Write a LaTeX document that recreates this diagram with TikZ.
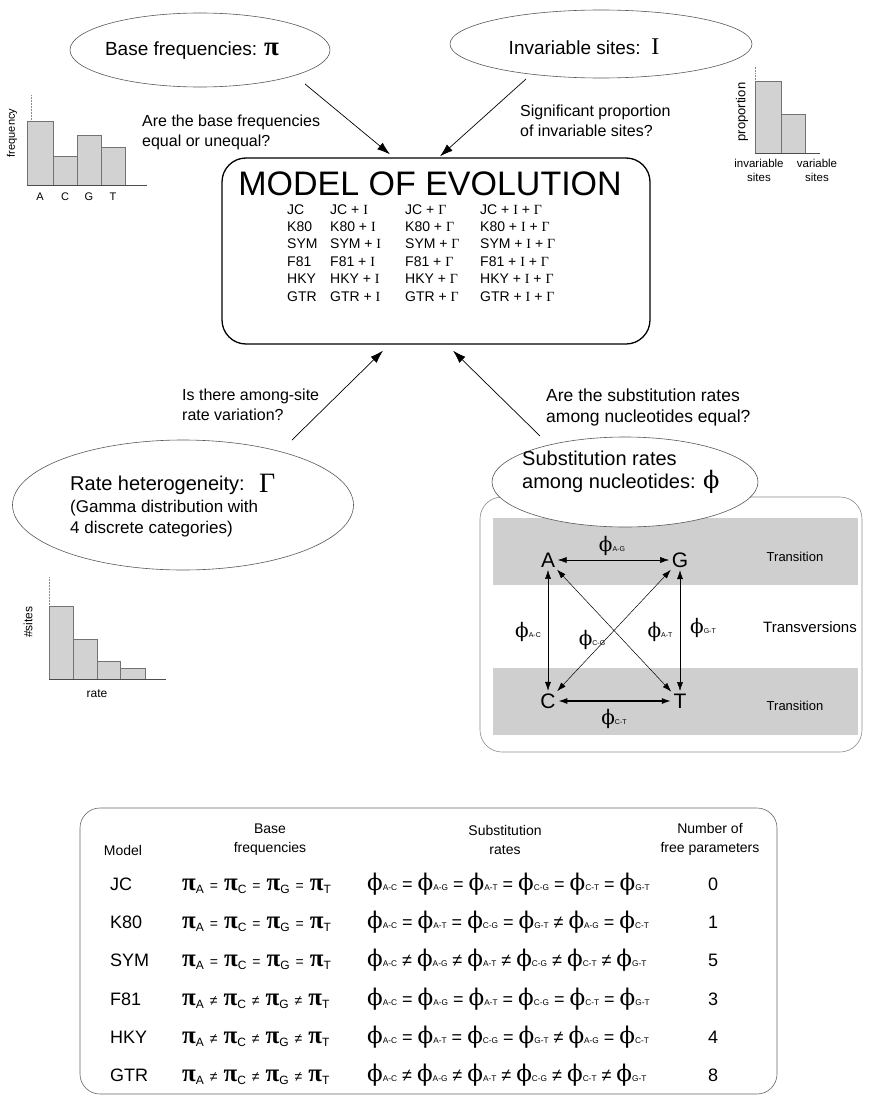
\documentclass[tikz,border=0pt]{standalone}
\usepackage{fontspec}
\setmainfont{Liberation Sans}
\newfontfamily\srf{Liberation Serif}
\newfontfamily\phif{DejaVu Serif}
\usetikzlibrary{arrows.meta,shapes.geometric}

\newcommand\fsz[1]{\fontsize{#1}{#1}\selectfont}
\newcommand\Gam{{\srf Γ}}
\newcommand\Inv{{\srf I}}
% pi with a subscript base letter
\newcommand\pis[1]{{\fsz{25}\srf\bfseries π}\raisebox{-3pt}{\fsz{12}#1}}
% phi with a small pair subscript (table)
\newcommand\phs[1]{{\fsz{23}\phif ϕ}{\fsz{8.3}#1}}
% phi with a small pair subscript (rate diagram)
\newcommand\phl[1]{{\fsz{20}\phif ϕ}{\fsz{7}#1}}

\begin{document}
\begin{tikzpicture}[x=1pt,y=-1pt,
  ell/.style={ellipse,draw=black!65,line width=0.6pt,fill=white,inner sep=0pt},
  arr/.style={-{Latex[length=13pt,width=8.5pt]},line width=0.7pt},
  dar/.style={{Latex[length=9pt,width=6pt]}-{Latex[length=9pt,width=6pt]},line width=0.5pt,shorten <=1pt,shorten >=1pt},
  lbl/.style={anchor=west,align=left,inner sep=0pt,font=\fontsize{16}{20}\selectfont},
  ttl/.style={inner sep=0pt,font=\fsz{19}},
  bar/.style={fill=gray!35,draw=black!55,line width=0.5pt},
  axisv/.style={draw=black!45,densely dotted,line width=0.5pt},
  axish/.style={draw=black!70,line width=0.6pt},
  band/.style={fill=gray!38,draw=none},
  cell/.style={anchor=base west,inner sep=0pt,font=\fsz{14}},
  tiny/.style={inner sep=0pt,font=\fsz{11}},
  hdr/.style={inner sep=0pt,align=center,font=\fontsize{14}{19}\selectfont},
  big/.style={anchor=base west,inner sep=0pt,font=\fsz{18}},
  nuc/.style={inner sep=1.5pt,font=\fsz{21}},
  rlab/.style={inner sep=0pt}]

\fill[white] (0,0) rectangle (871,1108);
\useasboundingbox (0,0) rectangle (871,1108);

%--- base frequencies
\node[ell,minimum width=260pt,minimum height=74pt] (bf) at (200,50) {};
\node[ttl] (bft) at (192,51) {Base frequencies: {\fsz{27}\srf\bfseries π}};

\draw[axisv] (31,95) -- (31,185);
\draw[bar] (27,121) rectangle (53,185);
\draw[bar] (53,156) rectangle (77,185);
\draw[bar] (77,135) rectangle (101,185);
\draw[bar] (101,147) rectangle (125,185);
\draw[axish] (27,185) -- (147,185);
\node[tiny] (hA) at (40,197) {A};
\node[tiny] (hC) at (65,197) {C};
\node[tiny] (hG) at (89,197) {G};
\node[tiny] (hT) at (113,197) {T};
\node[tiny,rotate=90] (hf) at (12,133) {frequency};

%--- invariable sites
\node[ell,minimum width=302pt,minimum height=68pt] (iv) at (601,44) {};
\node[ttl] (ivt) at (584,47) {Invariable sites:\ \ {\fsz{24}\srf I}};

\draw[axisv] (755,67) -- (755,153);
\draw[bar] (755,81) rectangle (781,153);
\draw[bar] (781,114) rectangle (805,153);
\draw[axish] (755,153) -- (820,153);
\node[tiny,rotate=90,font=\fsz{13}] (hp) at (742,112) {proportion};
\node[hdr,font=\fontsize{11.5}{14}\selectfont] (hi) at (759,170) {invariable\\sites};
\node[hdr,font=\fontsize{11.5}{14}\selectfont] (hv) at (817,170) {variable\\sites};

%--- questions
\node[lbl] (q1) at (142,132) {Are the base frequencies\\equal or unequal?};
\node[lbl] (q2) at (520,121) {Significant proportion\\of invariable sites?};
\node[lbl] (q3) at (182,405) {Is there among-site\\rate variation?};
\node[lbl,font=\fontsize{17.5}{21}\selectfont] (q4) at (546,407) {Are the substitution rates\\among nucleotides equal?};

%--- model box
\node[draw,line width=1.3pt,rounded corners=24pt,minimum width=428pt,minimum height=186pt,inner sep=0pt] (mdl) at (436,251) {};
\node[inner sep=0pt,font=\fsz{34}] (mtl) at (430,184) {MODEL OF EVOLUTION};
\foreach \m [count=\i] in {JC,K80,SYM,F81,HKY,GTR} {
  \pgfmathsetmacro\yy{214+17.4*(\i-1)}
  \node[cell] (ma\i) at (287,\yy) {\m};
  \node[cell] (mb\i) at (330,\yy) {\m\ + \Inv};
  \node[cell] (mc\i) at (405,\yy) {\m\ + \Gam};
  \node[cell] (md\i) at (480,\yy) {\m\ + \Inv\ + \Gam};
}

%--- arrows into the model box
\path (bf.center) ++(105,34) coordinate (bfo);
\path (iv.center) ++(-75,35) coordinate (ivo);
\path (mdl.north) ++(-46,-3) coordinate (mt1);
\path (mdl.north) ++(4,-1) coordinate (mt2);
\path (mdl.south) ++(-53,6) coordinate (mb1);
\path (mdl.south) ++(17,6) coordinate (mb2);
\draw[arr] (bfo) -- (mt1);
\draw[arr] (ivo) -- (mt2);

%--- rate heterogeneity
\node[ell,minimum width=341pt,minimum height=130pt] (rh) at (183,505) {};
\node[anchor=base west,inner sep=0pt,font=\fsz{20}] (rht) at (70,490) {Rate heterogeneity:};
\node[anchor=base west,inner sep=0pt,font=\fsz{28}\srf] (rhg) at (259,492) {Γ};
\node[anchor=base west,inner sep=0pt,font=\fsz{17}] (rh1) at (70,512) {(Gamma distribution with};
\node[anchor=base west,inner sep=0pt,font=\fsz{17}] (rh2) at (70,533) {4 discrete categories)};
\path (rh.center) ++(109,-65) coordinate (rho);
\draw[arr] (rho) -- (mb1);

\draw[axisv] (49,577) -- (49,679);
\draw[bar] (49,606) rectangle (73,679);
\draw[bar] (73,639) rectangle (97,679);
\draw[bar] (97,661) rectangle (120,679);
\draw[bar] (120,668) rectangle (145,679);
\draw[axish] (49,679) -- (166,679);
\node[tiny,rotate=90,font=\fsz{12}] (hs) at (28,622) {\#sites};
\node[tiny,font=\fsz{12}] (hr) at (97,694) {rate};

%--- substitution rates
\node[draw=black!45,line width=0.6pt,rounded corners=22pt,minimum width=382pt,minimum height=255pt,inner sep=0pt] (sbx) at (671,624.5) {};
\fill[band] (493,518) rectangle (858,585);
\fill[band] (493,668) rectangle (858,735);
\node[ell,minimum width=266pt,minimum height=90pt] (sr) at (625,482) {};
\node[anchor=base west,inner sep=0pt,font=\fsz{20}] (srt1) at (522,465) {Substitution rates};
\node[anchor=base west,inner sep=0pt,font=\fsz{20}] (srt2) at (522,488) {among nucleotides: {\fsz{24}\phif ϕ}};
\path (sr.center) ++(-85,-46) coordinate (sro);
\draw[arr] (sro) -- (mb2);

\node[nuc] (A) at (548,560) {A};
\node[nuc] (G) at (680,560) {G};
\node[nuc] (C) at (548,701) {C};
\node[nuc] (T) at (680,701) {T};
\draw[dar] (A) -- (G);
\draw[dar] (A) -- (C);
\draw[dar] (G) -- (T);
\draw[dar] (A) -- (T);
\draw[dar] (G) -- (C);
\draw[dar,line width=1.3pt] (C) -- (T);
\node[rlab] (lag) at (612,546) {\phl{A-G}};
\node[rlab] (lac) at (528,632) {\phl{A-C}};
\node[rlab] (lcg) at (592,640) {\phl{C-G}};
\node[rlab] (lat) at (660,632) {\phl{A-T}};
\node[rlab] (lgt) at (703,628) {\phl{G-T}};
\node[rlab] (lct) at (614,719) {\phl{C-T}};
\node[inner sep=0pt,font=\fsz{13}] (tr1) at (795,557) {Transition};
\node[inner sep=0pt,font=\fsz{15}] (tv) at (810,627) {Transversions};
\node[inner sep=0pt,font=\fsz{13}] (tr2) at (795,706) {Transition};

%--- summary table
\node[draw=black!60,line width=0.6pt,rounded corners=20pt,minimum width=697pt,minimum height=286pt,inner sep=0pt] (tbl) at (428.5,951) {};
\node[hdr] (hm) at (123,850) {Model};
\node[hdr] (hb) at (270,839.5) {Base\\frequencies};
\node[hdr] (hsr) at (505,839.5) {Substitution\\rates};
\node[hdr] (hn) at (710,839.5) {Number of\\free parameters};

\def\peq{{\fsz{14}\hspace{6pt}=\hspace{6pt}}}
\def\pne{{\fsz{14}\hspace{6pt}≠\hspace{6pt}}}
\def\feq{\ =\ }
\def\fne{\ ≠\ }
\foreach \nm/\pp/\ff/\nn [count=\i] in {
  JC/{\pis{A}\peq\pis{C}\peq\pis{G}\peq\pis{T}}/{\phs{A-C}\feq\phs{A-G}\feq\phs{A-T}\feq\phs{C-G}\feq\phs{C-T}\feq\phs{G-T}}/0,
  K80/{\pis{A}\peq\pis{C}\peq\pis{G}\peq\pis{T}}/{\phs{A-C}\feq\phs{A-T}\feq\phs{C-G}\feq\phs{G-T}\fne\phs{A-G}\feq\phs{C-T}}/1,
  SYM/{\pis{A}\peq\pis{C}\peq\pis{G}\peq\pis{T}}/{\phs{A-C}\fne\phs{A-G}\fne\phs{A-T}\fne\phs{C-G}\fne\phs{C-T}\fne\phs{G-T}}/5,
  F81/{\pis{A}\pne\pis{C}\pne\pis{G}\pne\pis{T}}/{\phs{A-C}\feq\phs{A-G}\feq\phs{A-T}\feq\phs{C-G}\feq\phs{C-T}\feq\phs{G-T}}/3,
  HKY/{\pis{A}\pne\pis{C}\pne\pis{G}\pne\pis{T}}/{\phs{A-C}\feq\phs{A-T}\feq\phs{C-G}\feq\phs{G-T}\fne\phs{A-G}\feq\phs{C-T}}/4,
  GTR/{\pis{A}\pne\pis{C}\pne\pis{G}\pne\pis{T}}/{\phs{A-C}\fne\phs{A-G}\fne\phs{A-T}\fne\phs{C-G}\fne\phs{C-T}\fne\phs{G-T}}/8} {
  \pgfmathsetmacro\yy{890.5+38.2*(\i-1)}
  \node[big] (tn\i) at (110,\yy) {\nm};
  \node[big] (tp\i) at (182,\yy) {\pp};
  \node[big] (tf\i) at (367,\yy) {\ff};
  \node[big,anchor=base] (tk\i) at (713,\yy) {\nn};
}
\end{tikzpicture}
\end{document}
